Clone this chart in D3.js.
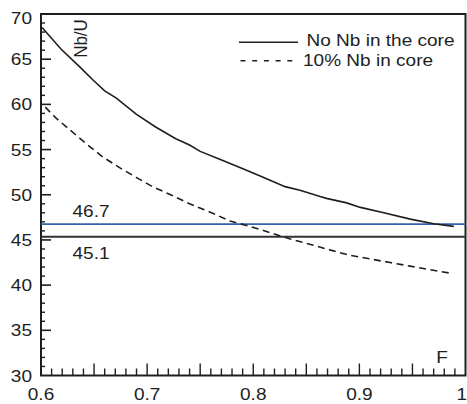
<!DOCTYPE html>
<html>
<head>
<meta charset="utf-8">
<script src="https://cdn.jsdelivr.net/npm/d3@7"></script>
<style>
  html, body { margin: 0; padding: 0; background: #fff; }
  svg { display: block; font-family: "Liberation Sans", Arial, Helvetica, sans-serif; }
</style>
</head>
<body>
<div id="chart"></div>
<script>
// --- data ---
const fNoNb  = [0.601,0.619,0.636,0.649,0.660,0.671,0.690,0.708,0.727,0.740,0.750,0.769,0.788,0.806,0.830,0.844,0.863,0.869,0.888,0.901,0.923,0.948,0.970,0.989];
const nbuNoNb = [68.5,66.1,64.2,62.7,61.5,60.7,58.9,57.5,56.2,55.5,54.8,53.9,53.0,52.1,50.9,50.5,49.8,49.6,49.1,48.6,48.0,47.3,46.8,46.5];

const f10Nb  = [0.604,0.614,0.627,0.642,0.658,0.674,0.690,0.705,0.726,0.740,0.759,0.778,0.797,0.816,0.835,0.854,0.872,0.891,0.910,0.929,0.948,0.967,0.987];
const nbu10Nb = [59.7,58.5,57.2,55.7,54.2,53.0,51.9,50.9,49.8,49.0,48.1,47.1,46.5,45.8,45.1,44.5,43.9,43.3,42.9,42.5,42.1,41.7,41.3];

const refValues = [46.75, 45.35];
const refLabels = ["46.7", "45.1"];
const refColors = ["#3560ad", "#333"];

const seriesNames = ["No Nb in the core", "10% Nb in core"];
const xTickLabels = ["0.6", "0.7", "0.8", "0.9", "1"];
const yTickLabels = ["30", "35", "40", "45", "50", "55", "60", "65", "70"];

const W = 467, H = 404;
const m = { left: 41, right: 1.5, top: 14, bottom: 28.5 };
const SX = 1.12; // reference text is horizontally stretched
const ink = "#1e1e1e";

const svg = d3.select("#chart").append("svg").attr("width", W).attr("height", H);

const x = d3.scaleLinear().domain([0.6, 1]).range([m.left, W - m.right]);
const y = d3.scaleLinear().domain([30, 70]).range([H - m.bottom, m.top]);

function label(g, tx, ty, str, anchor, rot) {
  return g.append("text")
    .attr("transform", `translate(${tx},${ty}) scale(${SX},1)` + (rot ? ` rotate(${rot})` : ""))
    .attr("text-anchor", anchor || "start")
    .attr("font-size", 17).attr("fill", ink)
    .text(str);
}

// minor + major ticks, drawn inward
const yMinor = d3.range(31, 70, 1).filter(v => v % 5 !== 0);
svg.append("g").selectAll("line").data(yMinor).join("line")
  .attr("x1", x(0.6)).attr("x2", x(0.6) + 4)
  .attr("y1", d => y(d)).attr("y2", d => y(d))
  .attr("stroke", ink).attr("stroke-width", 1.4);
svg.append("g").selectAll("line").data(yTickLabels.map(Number).filter(v => v > 30 && v < 70)).join("line")
  .attr("x1", x(0.6)).attr("x2", x(0.6) + 10)
  .attr("y1", d => y(d)).attr("y2", d => y(d))
  .attr("stroke", ink).attr("stroke-width", 1.6);

const xAll = d3.range(61, 100).map(i => i / 100);
svg.append("g").selectAll("line").data(xAll).join("line")
  .attr("x1", d => x(d)).attr("x2", d => x(d))
  .attr("y1", y(30)).attr("y2", d => y(30) - (Math.round(d * 100) % 5 === 0 ? 12 : 7))
  .attr("stroke", ink).attr("stroke-width", 1.4);

// frame
svg.append("rect")
  .attr("x", x(0.6)).attr("y", y(70))
  .attr("width", x(1) - x(0.6)).attr("height", y(30) - y(70))
  .attr("fill", "none").attr("stroke", ink).attr("stroke-width", 2);

// tick labels
yTickLabels.forEach(t => label(svg, 32, Math.max(y(+t) + 6, 23.5), t, "end"));
xTickLabels.forEach((t, i) => {
  const last = i === xTickLabels.length - 1;
  label(svg, last ? 467 : x(+t), 400, t, last ? "end" : "middle");
});

// reference lines
refValues.forEach((v, i) => {
  svg.append("line")
    .attr("x1", x(0.6)).attr("x2", x(1))
    .attr("y1", y(v)).attr("y2", y(v))
    .attr("stroke", refColors[i]).attr("stroke-width", 1.8);
});
label(svg, 72.5, 216.5, refLabels[0], "start");
label(svg, 72.5, 258.5, refLabels[1], "start");

// curves
const line = d3.line().x(d => x(d[0])).y(d => y(d[1]));
svg.append("path")
  .datum(d3.zip(fNoNb, nbuNoNb))
  .attr("fill", "none").attr("stroke", ink).attr("stroke-width", 1.6)
  .attr("d", line);
svg.append("path")
  .datum(d3.zip(f10Nb, nbu10Nb))
  .attr("fill", "none").attr("stroke", ink).attr("stroke-width", 1.6)
  .attr("stroke-dasharray", "7,4.5")
  .attr("d", line);

// axis titles
label(svg, 87, 38.5, "Nb/U", "middle", -90);
label(svg, 442, 363, "F", "middle");

// legend
const leg = svg.append("g");
leg.append("line").attr("x1", 239).attr("x2", 298).attr("y1", 42.3).attr("y2", 42.3)
  .attr("stroke", ink).attr("stroke-width", 1.5);
leg.append("line").attr("x1", 240.5).attr("x2", 298.5).attr("y1", 60.7).attr("y2", 60.7)
  .attr("stroke", ink).attr("stroke-width", 1.5).attr("stroke-dasharray", "5,6.7");
label(leg, 306.5, 46, seriesNames[0], "start");
label(leg, 303, 66.3, seriesNames[1], "start");
</script>
</body>
</html>
